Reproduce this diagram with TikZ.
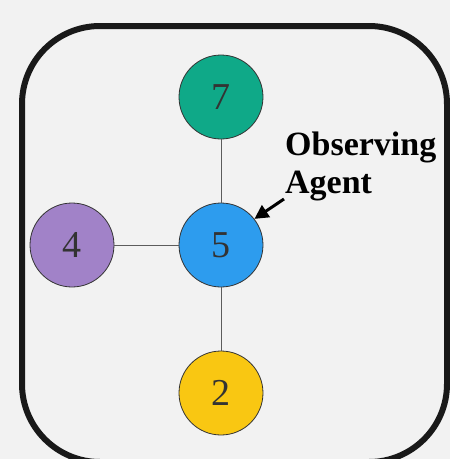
\documentclass[tikz,border=0pt]{standalone}
\usepackage{fontspec}
\setmainfont{Liberation Serif}
\usetikzlibrary{arrows.meta}
\definecolor{bg}{HTML}{F2F2F2}
\definecolor{agreen}{HTML}{0FA988}
\definecolor{ablue}{HTML}{2D9CEE}
\definecolor{apurple}{HTML}{A182C8}
\definecolor{ayellow}{HTML}{F9C712}
\definecolor{digit}{HTML}{333333}
\tikzset{
  agent/.style={circle, draw=digit, line width=0.8pt, minimum size=84pt, inner sep=0pt,
    text=digit, font=\fontsize{38}{40}\selectfont},
  link/.style={draw=digit!80, line width=0.8pt},
}
\begin{document}
\begin{tikzpicture}[x=1pt,y=-1pt]
  \fill[bg] (0,0) rectangle (450,459);
  \useasboundingbox (0,0) rectangle (450,459);
  % enclosing frame
  \draw[line width=6pt, color=black!90, rounded corners=78pt] (22,26) rectangle (447,462);
  % agents
  \node[agent, fill=agreen]  (a7) at (221,97)  {7};
  \node[agent, fill=ablue]   (a5) at (221,245) {5};
  \node[agent, fill=apurple] (a4) at (72,245)  {4};
  \node[agent, fill=ayellow] (a2) at (221,393) {2};
  \draw[link] (a7) -- (a5);
  \draw[link] (a4) -- (a5);
  \draw[link] (a5) -- (a2);
  % label
  \node[anchor=base west, align=left, font=\fontsize{34}{38}\selectfont\bfseries, inner sep=0pt] (lab) at (285,193)
    {Observing\\Agent};
  \coordinate (tail) at (284,199);
  \draw[line width=3pt, -{Triangle[length=14pt,width=14pt]}] (tail) -- (a5.38);
\end{tikzpicture}
\end{document}
